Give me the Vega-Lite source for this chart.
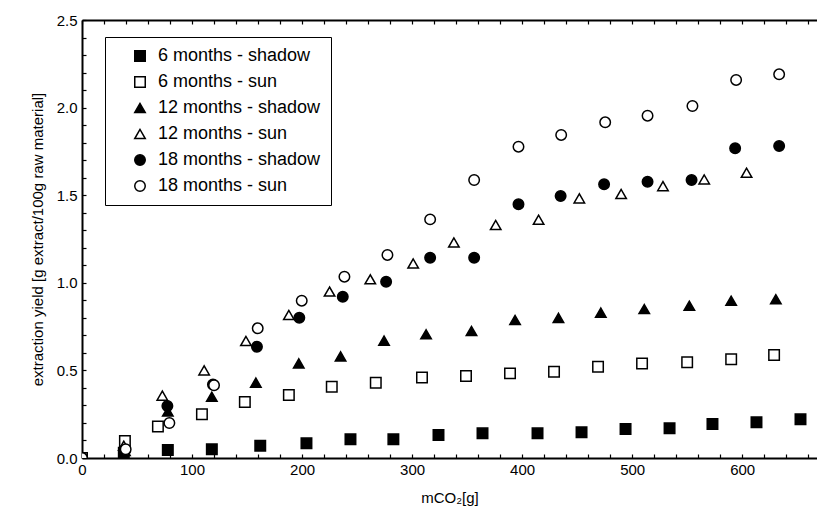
{
  "$schema": "https://vega.github.io/schema/vega-lite/v6.json",
  "width": 735,
  "height": 438,
  "autosize": {"type": "none"},
  "padding": {"left": 82, "top": 20, "right": 0, "bottom": 62},
  "config": {
    "font": "Liberation Sans",
    "view": {"stroke": null},
    "axis": {"labelColor": "black", "titleColor": "black", "domainColor": "black", "tickColor": "black", "grid": false, "titleFontWeight": "normal"},
    "legend": {
      "title": null, "orient": "none", "legendX": 23, "legendY": 17,
      "strokeColor": "black", "fillColor": "white", "padding": 10,
      "labelFontSize": 18, "labelColor": "black", "labelLimit": 400, "symbolSize": 110, "symbolStrokeWidth": 1.5,
      "rowPadding": 8, "symbolOffset": 16, "labelOffset": 9
    }
  },
  "data": {
    "values": [
      {"series": "6 months - shadow", "x": 0, "y": 0},
      {"series": "6 months - shadow", "x": 38, "y": 0.03},
      {"series": "6 months - shadow", "x": 78, "y": 0.046},
      {"series": "6 months - shadow", "x": 118, "y": 0.05},
      {"series": "6 months - shadow", "x": 162, "y": 0.07},
      {"series": "6 months - shadow", "x": 204, "y": 0.084},
      {"series": "6 months - shadow", "x": 244, "y": 0.107},
      {"series": "6 months - shadow", "x": 283, "y": 0.107},
      {"series": "6 months - shadow", "x": 324, "y": 0.131},
      {"series": "6 months - shadow", "x": 364, "y": 0.141},
      {"series": "6 months - shadow", "x": 414, "y": 0.141},
      {"series": "6 months - shadow", "x": 454, "y": 0.147},
      {"series": "6 months - shadow", "x": 494, "y": 0.166},
      {"series": "6 months - shadow", "x": 534, "y": 0.17},
      {"series": "6 months - shadow", "x": 573, "y": 0.194},
      {"series": "6 months - shadow", "x": 613, "y": 0.204},
      {"series": "6 months - shadow", "x": 653, "y": 0.221},
      {"series": "6 months - sun", "x": 0, "y": 0},
      {"series": "6 months - sun", "x": 39, "y": 0.097},
      {"series": "6 months - sun", "x": 69, "y": 0.18},
      {"series": "6 months - sun", "x": 109, "y": 0.25},
      {"series": "6 months - sun", "x": 148, "y": 0.32},
      {"series": "6 months - sun", "x": 188, "y": 0.36},
      {"series": "6 months - sun", "x": 227, "y": 0.407},
      {"series": "6 months - sun", "x": 267, "y": 0.43},
      {"series": "6 months - sun", "x": 309, "y": 0.46},
      {"series": "6 months - sun", "x": 349, "y": 0.468},
      {"series": "6 months - sun", "x": 389, "y": 0.483},
      {"series": "6 months - sun", "x": 429, "y": 0.492},
      {"series": "6 months - sun", "x": 469, "y": 0.521},
      {"series": "6 months - sun", "x": 509, "y": 0.54},
      {"series": "6 months - sun", "x": 550, "y": 0.546},
      {"series": "6 months - sun", "x": 590, "y": 0.563},
      {"series": "6 months - sun", "x": 629, "y": 0.588},
      {"series": "12 months - shadow", "x": 0, "y": 0},
      {"series": "12 months - shadow", "x": 39, "y": 0.04},
      {"series": "12 months - shadow", "x": 78, "y": 0.265},
      {"series": "12 months - shadow", "x": 118, "y": 0.35},
      {"series": "12 months - shadow", "x": 158, "y": 0.43},
      {"series": "12 months - shadow", "x": 197, "y": 0.54},
      {"series": "12 months - shadow", "x": 235, "y": 0.58},
      {"series": "12 months - shadow", "x": 274.5, "y": 0.67},
      {"series": "12 months - shadow", "x": 312.7, "y": 0.706},
      {"series": "12 months - shadow", "x": 354, "y": 0.725},
      {"series": "12 months - shadow", "x": 393.6, "y": 0.788},
      {"series": "12 months - shadow", "x": 433, "y": 0.8},
      {"series": "12 months - shadow", "x": 471.5, "y": 0.83},
      {"series": "12 months - shadow", "x": 511, "y": 0.85},
      {"series": "12 months - shadow", "x": 552, "y": 0.869},
      {"series": "12 months - shadow", "x": 590, "y": 0.898},
      {"series": "12 months - shadow", "x": 630.6, "y": 0.906},
      {"series": "12 months - sun", "x": 0, "y": 0},
      {"series": "12 months - sun", "x": 38, "y": 0.07},
      {"series": "12 months - sun", "x": 73, "y": 0.356},
      {"series": "12 months - sun", "x": 111, "y": 0.5},
      {"series": "12 months - sun", "x": 149, "y": 0.668},
      {"series": "12 months - sun", "x": 188, "y": 0.816},
      {"series": "12 months - sun", "x": 225, "y": 0.95},
      {"series": "12 months - sun", "x": 262, "y": 1.02},
      {"series": "12 months - sun", "x": 301, "y": 1.11},
      {"series": "12 months - sun", "x": 338, "y": 1.23},
      {"series": "12 months - sun", "x": 376, "y": 1.33},
      {"series": "12 months - sun", "x": 415, "y": 1.36},
      {"series": "12 months - sun", "x": 452, "y": 1.482},
      {"series": "12 months - sun", "x": 490, "y": 1.507},
      {"series": "12 months - sun", "x": 528, "y": 1.552},
      {"series": "12 months - sun", "x": 565.5, "y": 1.59},
      {"series": "12 months - sun", "x": 604, "y": 1.628},
      {"series": "18 months - shadow", "x": 0, "y": 0},
      {"series": "18 months - shadow", "x": 39, "y": 0.04},
      {"series": "18 months - shadow", "x": 77.6, "y": 0.297},
      {"series": "18 months - shadow", "x": 119, "y": 0.42},
      {"series": "18 months - shadow", "x": 159, "y": 0.635},
      {"series": "18 months - shadow", "x": 197.5, "y": 0.8},
      {"series": "18 months - shadow", "x": 237, "y": 0.92},
      {"series": "18 months - shadow", "x": 276.4, "y": 1.006},
      {"series": "18 months - shadow", "x": 316.4, "y": 1.143},
      {"series": "18 months - shadow", "x": 356.4, "y": 1.143},
      {"series": "18 months - shadow", "x": 396.7, "y": 1.448},
      {"series": "18 months - shadow", "x": 435, "y": 1.495},
      {"series": "18 months - shadow", "x": 474.5, "y": 1.562},
      {"series": "18 months - shadow", "x": 514, "y": 1.577},
      {"series": "18 months - shadow", "x": 554, "y": 1.587},
      {"series": "18 months - shadow", "x": 593.6, "y": 1.768},
      {"series": "18 months - shadow", "x": 633.6, "y": 1.781},
      {"series": "18 months - sun", "x": 0, "y": 0},
      {"series": "18 months - sun", "x": 39.7, "y": 0.05},
      {"series": "18 months - sun", "x": 79.4, "y": 0.2},
      {"series": "18 months - sun", "x": 120, "y": 0.415},
      {"series": "18 months - sun", "x": 159.7, "y": 0.74},
      {"series": "18 months - sun", "x": 199.7, "y": 0.898},
      {"series": "18 months - sun", "x": 238.5, "y": 1.035},
      {"series": "18 months - sun", "x": 277.6, "y": 1.159},
      {"series": "18 months - sun", "x": 316.4, "y": 1.362},
      {"series": "18 months - sun", "x": 356.4, "y": 1.587},
      {"series": "18 months - sun", "x": 396.7, "y": 1.777},
      {"series": "18 months - sun", "x": 435.5, "y": 1.844},
      {"series": "18 months - sun", "x": 475.5, "y": 1.916},
      {"series": "18 months - sun", "x": 514, "y": 1.954},
      {"series": "18 months - sun", "x": 554.8, "y": 2.009},
      {"series": "18 months - sun", "x": 594.5, "y": 2.158},
      {"series": "18 months - sun", "x": 633.6, "y": 2.19}
    ]
  },
  "layer": [
    {
      "mark": {"type": "point", "filled": true, "strokeWidth": 1.5, "opacity": 1, "clip": true},
      "encoding": {
        "x": {
          "field": "x", "type": "quantitative",
          "scale": {"domain": [0, 668], "nice": false, "zero": false},
          "axis": {
            "orient": "bottom",
            "values": [0,20,40,60,80,100,120,140,160,180,200,220,240,260,280,300,320,340,360,380,400,420,440,460,480,500,520,540,560,580,600,620,640,660],
            "labelExpr": "datum.value % 100 == 0 ? datum.value : ''",
            "tickSize": -4, "tickWidth": 1.2, "domainWidth": 2, "labelFontSize": 15, "labelPadding": 8,
            "labelFlush": false, "labelOverlap": false,
            "title": "mCO₂[g]", "titleFontSize": 15, "titlePadding": 13
          }
        },
        "y": {
          "field": "y", "type": "quantitative",
          "scale": {"domain": [0, 2.5], "nice": false, "zero": false},
          "axis": {
            "values": [0,0.1,0.2,0.3,0.4,0.5,0.6,0.7,0.8,0.9,1.0,1.1,1.2,1.3,1.4,1.5,1.6,1.7,1.8,1.9,2.0,2.1,2.2,2.3,2.4,2.5],
            "labelExpr": "round(datum.value*10) % 5 == 0 ? format(datum.value, '.1f') : ''",
            "tickSize": -4, "tickWidth": 1.2, "domainWidth": 2, "labelFontSize": 15, "labelPadding": 9,
            "labelFlush": false, "labelOverlap": false,
            "title": "extraction yield [g extract/100g raw material]", "titleFontSize": 15, "titlePadding": 11
          }
        },
        "shape": {
          "field": "series", "type": "nominal",
          "scale": {
            "domain": ["6 months - shadow", "6 months - sun", "12 months - shadow", "12 months - sun", "18 months - shadow", "18 months - sun"],
            "range": ["square", "square", "triangle-up", "triangle-up", "circle", "circle"]
          }
        },
        "fill": {
          "field": "series", "type": "nominal",
          "scale": {
            "domain": ["6 months - shadow", "6 months - sun", "12 months - shadow", "12 months - sun", "18 months - shadow", "18 months - sun"],
            "range": ["black", "white", "black", "white", "black", "white"]
          }
        },
        "stroke": {
          "field": "series", "type": "nominal",
          "scale": {
            "domain": ["6 months - shadow", "6 months - sun", "12 months - shadow", "12 months - sun", "18 months - shadow", "18 months - sun"],
            "range": ["black", "black", "black", "black", "black", "black"]
          }
        },
        "size": {"value": 110}
      }
    },
    {
      "mark": {"type": "point", "opacity": 0},
      "encoding": {
        "x": {
          "field": "x", "type": "quantitative",
          "scale": {"domain": [0, 668], "nice": false, "zero": false},
          "axis": {
            "orient": "top",
            "values": [0,20,40,60,80,100,120,140,160,180,200,220,240,260,280,300,320,340,360,380,400,420,440,460,480,500,520,540,560,580,600,620,640,660],
            "labels": false, "title": null,
            "tickSize": -4, "tickWidth": 1.2, "domainWidth": 2
          }
        }
      }
    }
  ],
  "resolve": {"axis": {"x": "independent"}}
}
